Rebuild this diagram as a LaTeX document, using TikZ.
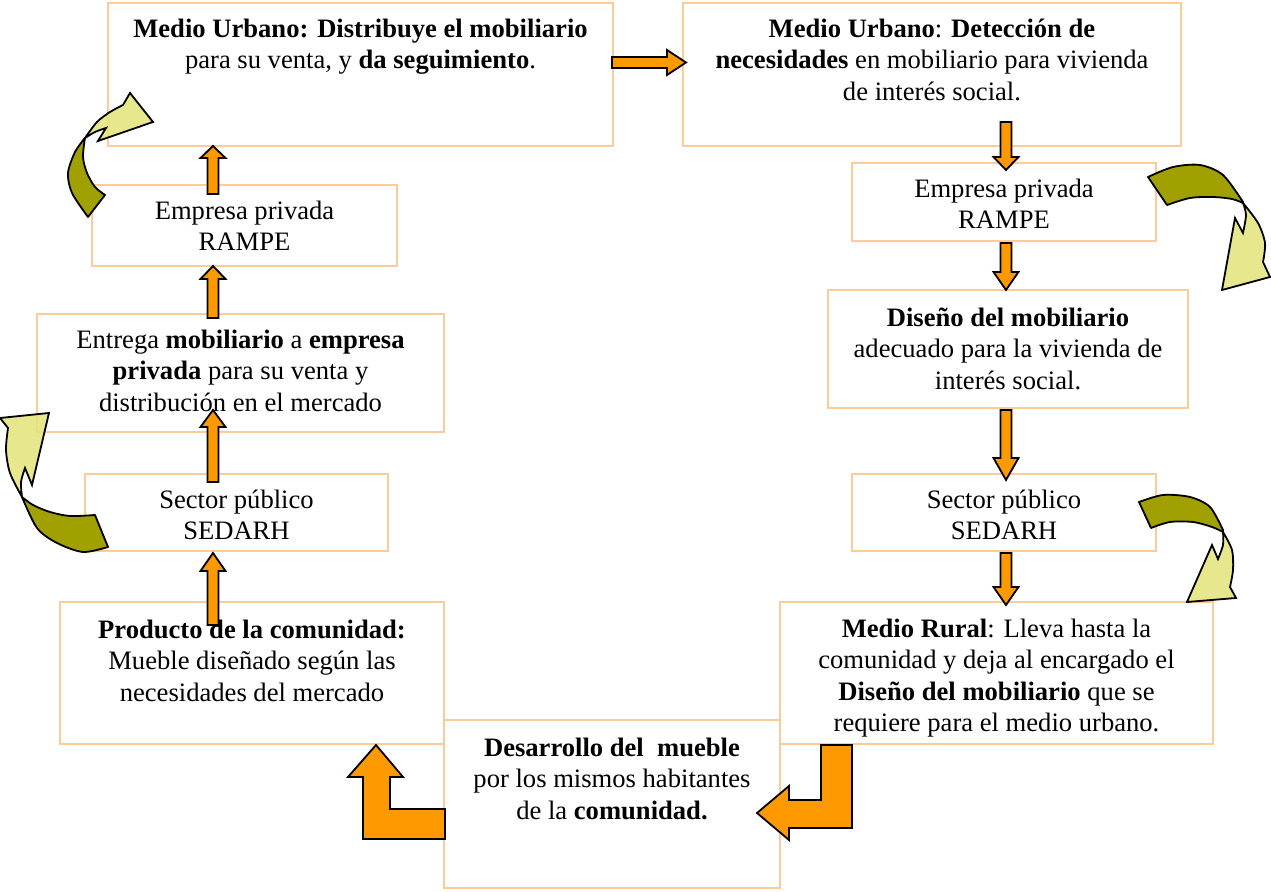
\documentclass[tikz,border=0pt]{standalone}
\usepackage{fontspec}
\setmainfont{Liberation Serif}
\definecolor{boxline}{HTML}{FFCC99}
\definecolor{orangeA}{HTML}{FF9900}
\definecolor{oliveA}{HTML}{A0A000}
\definecolor{yellowA}{HTML}{E3E37A}
\newcommand\varrow[4]{\filldraw[blk] ({#1-5.5},#2) -- ({#1-5.5},{#3+#4}) -- ({#1-12.5},{#3+#4}) -- (#1,#3) -- ({#1+12.5},{#3+#4}) -- ({#1+5.5},{#3+#4}) -- ({#1+5.5},#2) -- cycle;}
\begin{document}
\begin{tikzpicture}[x=0.5pt,y=-0.5pt,
 box/.style={draw=boxline, line width=1pt, inner sep=0, rectangle},
 txt/.style={anchor=north, inner sep=0, align=center, font=\fontsize{13.3}{15.75}\selectfont},
 blk/.style={fill=orangeA, draw=black, line width=0.9pt, line join=miter},
 dark/.style={fill=oliveA, draw=black, line width=0.9pt, line join=round},
 light/.style={fill=yellowA, fill opacity=0.85, draw=black, line width=0.9pt, line join=miter},
]
\useasboundingbox (0,0) rectangle (1271,892);
% boxes
\node[box, minimum width=252.5pt, minimum height=71.5pt] (b1) at (360.5,74.5) {};
\node[box, minimum width=249pt, minimum height=71.5pt] (b2) at (932,74.5) {};
\node[box, minimum width=152.5pt, minimum height=40.5pt] (b3) at (244.5,225.5) {};
\node[box, minimum width=203.5pt, minimum height=59pt] (b4) at (240.5,373) {};
\node[box, minimum width=151.5pt, minimum height=38.5pt] (b5) at (236.5,512.5) {};
\node[box, minimum width=192pt, minimum height=71pt] (b6) at (252,673) {};
\node[box, minimum width=168pt, minimum height=84pt] (b7) at (612,804) {};
\node[box, minimum width=216.5pt, minimum height=71pt] (b8) at (996.5,673) {};
\node[box, minimum width=152pt, minimum height=38.5pt] (b9) at (1004,512.5) {};
\node[box, minimum width=180pt, minimum height=59pt] (b10) at (1008,349) {};
\node[box, minimum width=152pt, minimum height=39pt] (b11) at (1004,202) {};
% texts
\node[txt] (t1) at ([yshift=-6.5pt]b1.north) {\strut\textbf{Medio Urbano: Distribuye el mobiliario}\\ para su venta, y \textbf{da seguimiento}.};
\node[txt] (t2) at ([yshift=-6.5pt]b2.north) {\strut\textbf{Medio Urbano}: \textbf{Detección de}\\ \textbf{necesidades} en mobiliario para vivienda\\ de interés social.};
\node[txt] (t3) at ([yshift=-6.5pt]b3.north) {\strut Empresa privada\\ RAMPE};
\node[txt] (t4) at ([yshift=-6.5pt]b4.north) {\strut Entrega \textbf{mobiliario} a \textbf{empresa}\\ \textbf{privada} para su venta y\\ distribución en el mercado};
\node[txt] (t5) at ([yshift=-6.5pt]b5.north) {\strut Sector público\\ SEDARH};
\node[txt] (t6) at ([yshift=-7.5pt]b6.north) {\strut\textbf{Producto de la comunidad:}\\ Mueble diseñado según las\\ necesidades del mercado};
\node[txt] (t7) at ([yshift=-7.5pt]b7.north) {\strut\textbf{Desarrollo del\ \ mueble}\\ por los mismos habitantes\\ de la \textbf{comunidad.}};
\node[txt] (t8) at ([yshift=-7pt]b8.north) {\strut\textbf{Medio Rural}: Lleva hasta la\\ comunidad y deja al encargado el\\ \textbf{Diseño del mobiliario} que se\\ requiere para el medio urbano.};
\node[txt] (t9) at ([yshift=-6.5pt]b9.north) {\strut Sector público\\ SEDARH};
\node[txt] (t10) at ([yshift=-7.5pt]b10.north) {\strut\textbf{Diseño del mobiliario}\\ adecuado para la vivienda de\\ interés social.};
\node[txt] (t11) at ([yshift=-6.5pt]b11.north) {\strut Empresa privada\\ RAMPE};
% straight block arrows, left column (up)
\varrow{213}{194}{146}{12}
\varrow{213}{318}{266}{13}
\varrow{213}{482}{410}{17}
\varrow{213}{625}{553}{18}
% right column (down)
\varrow{1006}{122}{170}{-13}
\varrow{1006}{243}{290}{-18}
\varrow{1006}{410}{480}{-22}
\varrow{1006}{553}{605}{-18}
% horizontal arrow b1 -> b2
\filldraw[blk] (612,57) -- (667,57) -- (667,50) -- (686,62.5) -- (667,75) -- (667,68) -- (612,68) -- cycle;
% bent arrows
\filldraw[blk] (445,809) -- (390,809) -- (390,777) -- (403,777) -- (376,745) -- (348,777) -- (363,777) -- (363,839) -- (445,839) -- cycle;
\filldraw[blk] (821,745) -- (852,745) -- (852,828) -- (789,828) -- (789,840) -- (757,813) -- (789,786) -- (789,800) -- (821,800) -- cycle;
% curved arrow A (top left)
\filldraw[light] (85,138) -- plot[smooth] coordinates {(85,138) (97,122) (110,112) (123,105)} -- (130,93) -- (153,122) -- (98,141) -- (106,128) -- plot[smooth] coordinates {(106,128) (95,132) (85,138)} -- cycle;
\filldraw[dark] (88,217) -- (105,195) -- plot[smooth] coordinates {(105,195) (95,187) (87,173) (83,157) (85,138)} -- plot[smooth] coordinates {(85,138) (75,152) (68,173) (72,193) (88,217)} -- cycle;
% curved arrow B (left middle)
\filldraw[light] (22,497) -- plot[smooth] coordinates {(22,497) (10,473) (6,450) (8,428)} -- (0,418) -- (49,413) -- (32,485) -- (25,468) -- plot[smooth] coordinates {(25,468) (21,482) (22,497)} -- cycle;
\filldraw[dark] (95,515) -- (108,547) -- plot[smooth] coordinates {(108,547) (83,552) (57,543) (37,528) (22,497)} -- plot[smooth] coordinates {(22,497) (33,505) (50,512) (70,516) (95,515)} -- cycle;
% curved arrow C (right top)
\filldraw[light] (1243,203) -- plot[smooth] coordinates {(1243,203) (1258,223) (1265,243) (1263,262)} -- (1270,277) -- (1222,290) -- (1235,218) -- (1243,233) -- plot[smooth] coordinates {(1243,233) (1246,215) (1243,203)} -- cycle;
\filldraw[dark] (1148,177) -- plot[smooth] coordinates {(1148,177) (1173,167) (1200,165) (1223,175) (1243,202)} -- plot[smooth] coordinates {(1243,203) (1232,199) (1213,197) (1190,198) (1167,205)} -- cycle;
% curved arrow D (right bottom)
\filldraw[light] (1223,532) -- plot[smooth] coordinates {(1223,532) (1232,550) (1233,570) (1230,587)} -- (1236,598) -- (1187,602) -- (1212,545) -- (1218,559) -- plot[smooth] coordinates {(1218,559) (1223,545) (1223,532)} -- cycle;
\filldraw[dark] (1139,502) -- plot[smooth] coordinates {(1139,502) (1163,495) (1190,497) (1210,507) (1223,530)} -- plot[smooth] coordinates {(1223,532) (1212,527) (1193,522) (1170,522) (1151,528)} -- cycle;
\end{tikzpicture}
\end{document}
